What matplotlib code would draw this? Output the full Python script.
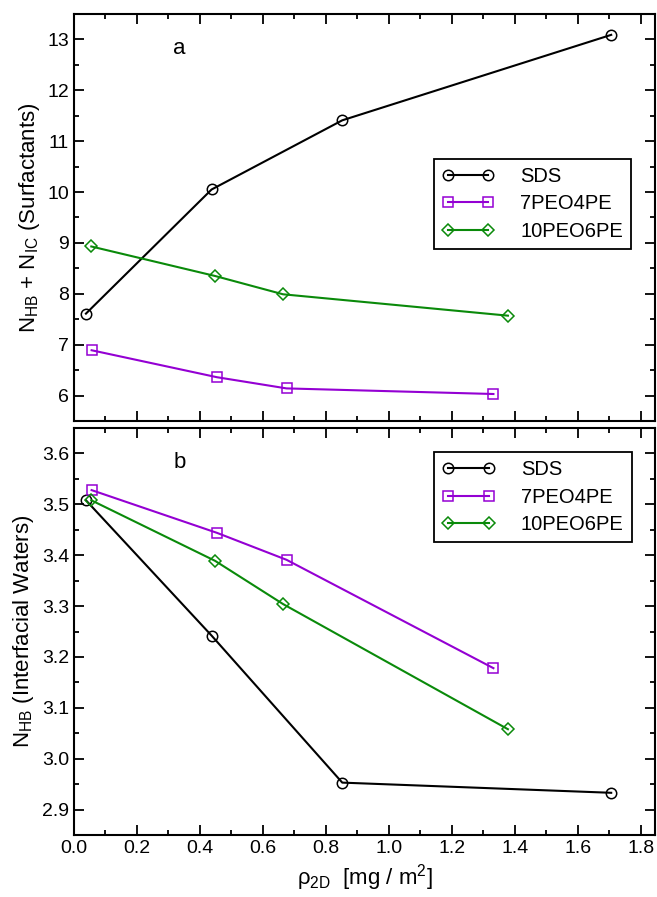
import numpy as np
import matplotlib
matplotlib.use("Agg")
import matplotlib.pyplot as plt
from matplotlib.ticker import MultipleLocator

# data
sds_x = [0.038, 0.437, 0.852, 1.706]
peo7_x = [0.056, 0.454, 0.675, 1.332]
peo10_x = [0.055, 0.448, 0.664, 1.378]

# panel a: N_HB + N_IC (surfactants)
sds_a = [7.61, 10.05, 11.41, 13.09]
peo7_a = [6.89, 6.36, 6.14, 6.03]
peo10_a = [8.93, 8.35, 7.99, 7.57]

# panel b: N_HB (interfacial waters)
sds_b = [3.508, 3.242, 2.953, 2.933]
peo7_b = [3.528, 3.444, 3.391, 3.178]
peo10_b = [3.508, 3.389, 3.304, 3.058]

names = ["SDS", "7PEO4PE", "10PEO6PE"]
colors = ["black", "#9400d3", "#0a8a0a"]
markers = ["o", "s", "D"]
msizes = [7.5, 6.5, 6.0]

plt.rcParams['font.family'] = ['Liberation Sans', 'DejaVu Sans']
plt.rcParams['mathtext.fontset'] = 'custom'
plt.rcParams['mathtext.rm'] = 'Liberation Sans'
plt.rcParams['mathtext.it'] = 'Liberation Sans'

fig = plt.figure(figsize=(6.57, 8.97), dpi=100)
ax1 = fig.add_axes([0.1126, 0.5307, 0.8843, 0.4537])
ax2 = fig.add_axes([0.1126, 0.0691, 0.8843, 0.4537])

def draw(ax, ys, anchor):
    xs = [sds_x, peo7_x, peo10_x]
    for i in range(3):
        ax.plot(xs[i], ys[i], color=colors[i], lw=1.5, marker=markers[i],
                ms=msizes[i], mfc="none", mec=colors[i], mew=1.1, label=names[i])
    ax.set_xlim(0, 1.845)
    ax.xaxis.set_major_locator(MultipleLocator(0.2))
    ax.xaxis.set_minor_locator(MultipleLocator(0.1))
    ax.tick_params(which="both", direction="in", top=True, right=True, labelsize=14)
    ax.tick_params(which="major", length=7, width=1.3)
    ax.tick_params(which="minor", length=3.5, width=1.3)
    for s in ax.spines.values():
        s.set_linewidth(1.5)
    leg = ax.legend(numpoints=2, fontsize=14.5, fancybox=False, edgecolor="black",
                    framealpha=1, handlelength=2.6, borderpad=0.4, labelspacing=0.42,
                    handletextpad=1.3, borderaxespad=0, loc="upper right",
                    bbox_to_anchor=anchor)
    leg.get_frame().set_linewidth(1.3)

draw(ax1, [sds_a, peo7_a, peo10_a], (0.959, 0.644))
ax1.set_ylim(5.5, 13.5)
ax1.yaxis.set_major_locator(MultipleLocator(1))
ax1.yaxis.set_minor_locator(MultipleLocator(0.5))
ax1.tick_params(labelbottom=False)
ax1.set_ylabel("N$_{\\mathrm{HB}}$ + N$_{\\mathrm{IC}}$ (Surfactants)", fontsize=16)
ax1.text(0.182, 0.916, "a", transform=ax1.transAxes, fontsize=16, ha="center", va="center")

draw(ax2, [sds_b, peo7_b, peo10_b], (0.96, 0.941))
ax2.set_ylim(2.85, 3.65)
ax2.yaxis.set_major_locator(MultipleLocator(0.1))
ax2.yaxis.set_minor_locator(MultipleLocator(0.05))
ax2.yaxis.set_major_formatter(plt.FormatStrFormatter("%.1f"))
ax2.set_ylabel("N$_{\\mathrm{HB}}$ (Interfacial Waters)", fontsize=16)
ax2.set_xlabel("$\\rho_{\\mathrm{2D}}$  [mg / m$^{2}$]", fontsize=16)
ax2.text(0.182, 0.916, "b", transform=ax2.transAxes, fontsize=16, ha="center", va="center")

fig.savefig("out.png", dpi=100)
